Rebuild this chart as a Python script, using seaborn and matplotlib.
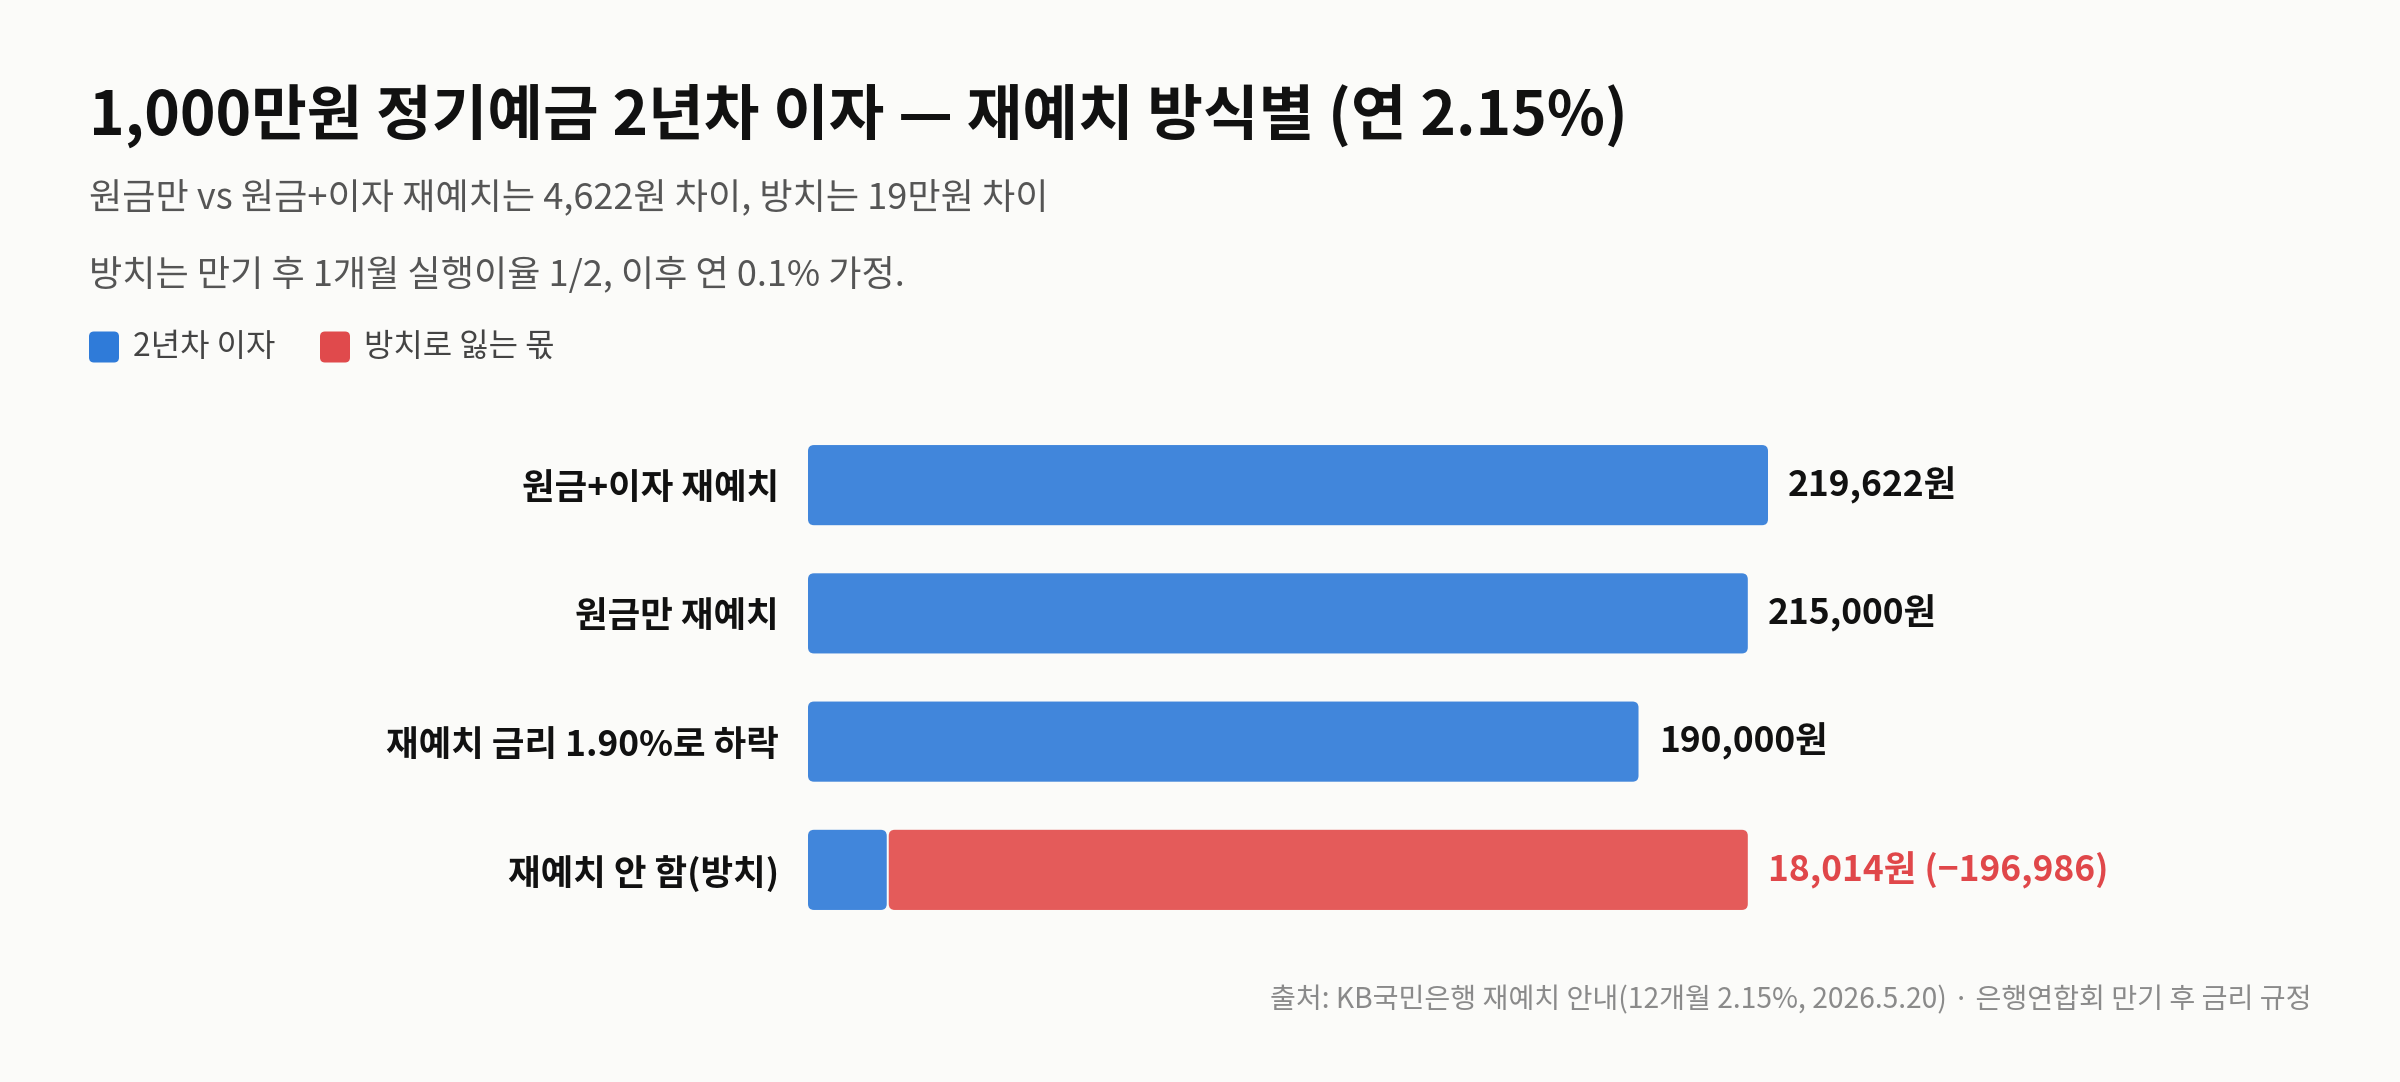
import matplotlib
matplotlib.use("Agg")
import matplotlib.pyplot as plt
from matplotlib.patches import FancyBboxPatch
from matplotlib.transforms import IdentityTransform
import seaborn as sns
import pandas as pd

# ---- data ----
categories = ["원금+이자 재예치", "원금만 재예치", "재예치 금리 1.90%로 하락", "재예치 안 함(방치)"]
interest = [219622, 215000, 190000, 18014]
lost = [0, 0, 0, 196986]
value_labels = ["219,622원", "215,000원", "190,000원", "18,014원 (−196,986)"]
legend_labels = ["2년차 이자", "방치로 잃는 몫"]

title = "1,000만원 정기예금 2년차 이자 — 재예치 방식별 (연 2.15%)"
subtitle1 = "원금만 vs 원금+이자 재예치는 4,622원 차이, 방치는 19만원 차이"
subtitle2 = "방치는 만기 후 1개월 실행이율 1/2, 이후 연 0.1% 가정."
source = "출처: KB국민은행 재예치 안내(12개월 2.15%, 2026.5.20) · 은행연합회 만기 후 금리 규정"

BLUE = "#4186DB"
RED = "#E45B5A"
LEG_BLUE = "#2F7BD9"
LEG_RED = "#E04A4C"
BG = "#FBFBF9"

sns.set_theme(style="white")
plt.rcParams["font.family"] = ["Noto Sans CJK KR", "DejaVu Sans"]

W, H = 2400, 1082
fig = plt.figure(figsize=(W / 100, H / 100), dpi=100, facecolor=BG)

# axes placement in pixels
left_px, right_px = 808, 2310
top_px, bot_px = 421, 934
ax = fig.add_axes([left_px / W, 1 - bot_px / H, (right_px - left_px) / W, (bot_px - top_px) / H])
ax.set_facecolor(BG)

df = pd.DataFrame({"category": categories, "interest": interest,
                   "total": [i + l for i, l in zip(interest, lost)]})

# red "lost" layer (drawn as total), then blue interest on top
sns.barplot(data=df, y="category", x="total", color=RED, width=0.625, ax=ax,
            saturation=1, order=categories, errorbar=None)
n_red = len(ax.patches)
sns.barplot(data=df, y="category", x="interest", color=BLUE, width=0.625, ax=ax,
            saturation=1, order=categories, errorbar=None)

won_per_px = 219622 / 960.0
ax.set_xlim(0, (right_px - left_px) * won_per_px)
ax.set_ylim(3.5, -0.5)

# replace rectangles with rounded ones (rounded in pixel space)
r_px = 6
patches = list(ax.patches)
specs = []
for k, p in enumerate(patches):
    x0, y0, w, h = p.get_x(), p.get_y(), p.get_width(), p.get_height()
    color = p.get_facecolor()
    p.remove()
    if k < n_red:
        if lost[k] <= 0:
            continue
        x0 = interest[k]
        w = w - interest[k]
        specs.append((x0, y0, w, h, color, True))
    else:
        specs.append((x0, y0, w, h, color, False))

for x0, y0, w, h, color, is_red in specs:
    (px0, py0), (px1, py1) = ax.transData.transform([(x0, y0), (x0 + w, y0 + h)])
    bx, by = min(px0, px1), min(py0, py1)
    bw, bh = abs(px1 - px0), abs(py1 - py0)
    if is_red:
        bx += 2
        bw -= 2
    fb = FancyBboxPatch((bx, by), bw, bh, boxstyle=f"round,pad=0,rounding_size={r_px}",
                        transform=IdentityTransform(), facecolor=color, edgecolor="none",
                        zorder=2 if is_red else 3)
    ax.add_patch(fb)

# value labels
for i, (iv, lv, lab) in enumerate(zip(interest, lost, value_labels)):
    end = iv + lv
    col = "#E0474A" if lv > 0 else "#111111"
    ax.annotate(lab, xy=(end, i), xytext=(14.5, 0), textcoords="offset points",
                va="center", ha="left", fontsize=25.5, fontweight="bold", color=col)

# axes styling
for s in ax.spines.values():
    s.set_visible(False)
ax.set_xlabel("")
ax.set_ylabel("")
ax.set_xticks([])
ax.tick_params(axis="y", length=0, pad=21)
for t in ax.get_yticklabels():
    t.set_fontsize(25.5)
    t.set_fontweight("bold")
    t.set_color("#111111")

# header texts
fig.text(89 / W, 1 - 116 / H, title, fontsize=43.5, fontweight="black", color="#111111",
         ha="left", va="center")
fig.text(89 / W, 1 - 199 / H, subtitle1, fontsize=26, color="#555555", ha="left", va="center")
fig.text(89 / W, 1 - 275 / H, subtitle2, fontsize=26, color="#555555", ha="left", va="center")

# legend
leg_y = 347
items = [(89, 133, LEG_BLUE, legend_labels[0]), (320, 364, LEG_RED, legend_labels[1])]
sq_w, sq_h = 30, 31
for sx, tx, c, lab in items:
    fb = FancyBboxPatch((sx, H - (leg_y + sq_h / 2)), sq_w, sq_h,
                        boxstyle="round,pad=0,rounding_size=5",
                        transform=IdentityTransform(), facecolor=c, edgecolor="none")
    fig.patches.append(fb)
    fig.text(tx / W, 1 - leg_y / H, lab, fontsize=23, color="#444444", ha="left", va="center")

# source
fig.text(2311 / W, 1 - 1000 / H, source, fontsize=20.3, color="#8A8A8A", ha="right", va="center")

fig.savefig("out.png", dpi=100, facecolor=BG)
